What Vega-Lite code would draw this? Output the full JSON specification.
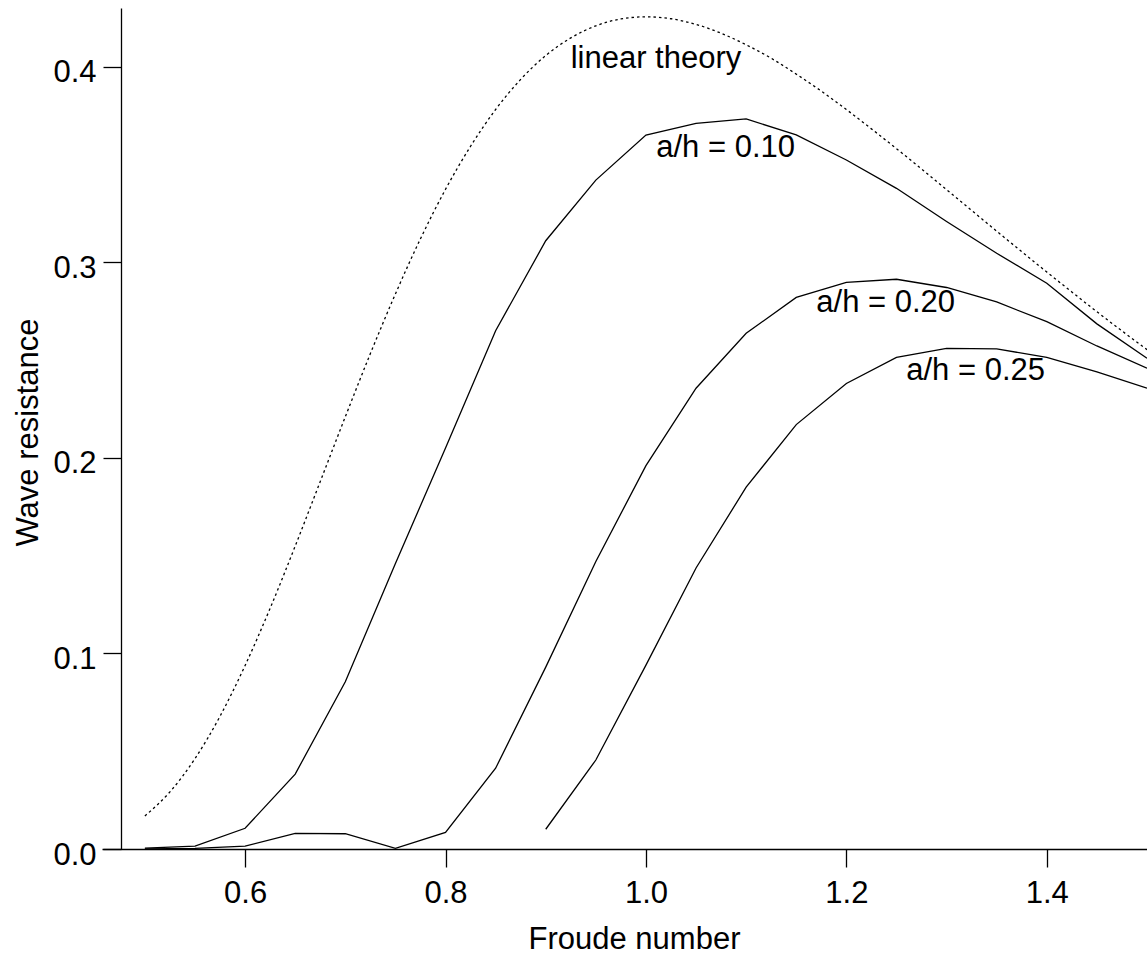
{
  "$schema": "https://vega.github.io/schema/vega-lite/v6.json",
  "width": 1045,
  "height": 841,
  "autosize": {"type": "none"},
  "padding": {"left": 102, "top": 8, "right": 0, "bottom": 108},
  "background": "white",
  "config": {
    "view": {"stroke": null},
    "font": "Liberation Sans",
    "axis": {
      "domainColor": "black", "domainWidth": 1.3,
      "tickColor": "black", "tickWidth": 1.3, "tickSize": 18,
      "labelColor": "black", "labelFont": "Liberation Sans", "labelFontSize": 31,
      "titleColor": "black", "titleFont": "Liberation Sans", "titleFontSize": 31, "titleFontWeight": "normal",
      "grid": false
    }
  },
  "datasets": {
    "curves": [
      {"F": 0.50, "R": 0.0004, "series": "a/h = 0.10"},
      {"F": 0.55, "R": 0.0015, "series": "a/h = 0.10"},
      {"F": 0.60, "R": 0.0106, "series": "a/h = 0.10"},
      {"F": 0.65, "R": 0.0383, "series": "a/h = 0.10"},
      {"F": 0.70, "R": 0.0855, "series": "a/h = 0.10"},
      {"F": 0.75, "R": 0.146, "series": "a/h = 0.10"},
      {"F": 0.80, "R": 0.205, "series": "a/h = 0.10"},
      {"F": 0.85, "R": 0.265, "series": "a/h = 0.10"},
      {"F": 0.90, "R": 0.311, "series": "a/h = 0.10"},
      {"F": 0.95, "R": 0.342, "series": "a/h = 0.10"},
      {"F": 1.00, "R": 0.365, "series": "a/h = 0.10"},
      {"F": 1.05, "R": 0.371, "series": "a/h = 0.10"},
      {"F": 1.10, "R": 0.3733, "series": "a/h = 0.10"},
      {"F": 1.15, "R": 0.3651, "series": "a/h = 0.10"},
      {"F": 1.20, "R": 0.3523, "series": "a/h = 0.10"},
      {"F": 1.25, "R": 0.3378, "series": "a/h = 0.10"},
      {"F": 1.30, "R": 0.3208, "series": "a/h = 0.10"},
      {"F": 1.35, "R": 0.3046, "series": "a/h = 0.10"},
      {"F": 1.40, "R": 0.2893, "series": "a/h = 0.10"},
      {"F": 1.45, "R": 0.2685, "series": "a/h = 0.10"},
      {"F": 1.50, "R": 0.2509, "series": "a/h = 0.10"},
      {"F": 0.50, "R": 0.0, "series": "a/h = 0.20"},
      {"F": 0.55, "R": 0.0003, "series": "a/h = 0.20"},
      {"F": 0.60, "R": 0.0015, "series": "a/h = 0.20"},
      {"F": 0.65, "R": 0.008, "series": "a/h = 0.20"},
      {"F": 0.70, "R": 0.0078, "series": "a/h = 0.20"},
      {"F": 0.75, "R": 0.0003, "series": "a/h = 0.20"},
      {"F": 0.80, "R": 0.0085, "series": "a/h = 0.20"},
      {"F": 0.85, "R": 0.0413, "series": "a/h = 0.20"},
      {"F": 0.90, "R": 0.093, "series": "a/h = 0.20"},
      {"F": 0.95, "R": 0.147, "series": "a/h = 0.20"},
      {"F": 1.00, "R": 0.196, "series": "a/h = 0.20"},
      {"F": 1.05, "R": 0.2356, "series": "a/h = 0.20"},
      {"F": 1.10, "R": 0.2637, "series": "a/h = 0.20"},
      {"F": 1.15, "R": 0.282, "series": "a/h = 0.20"},
      {"F": 1.20, "R": 0.2897, "series": "a/h = 0.20"},
      {"F": 1.25, "R": 0.2913, "series": "a/h = 0.20"},
      {"F": 1.30, "R": 0.2871, "series": "a/h = 0.20"},
      {"F": 1.35, "R": 0.2797, "series": "a/h = 0.20"},
      {"F": 1.40, "R": 0.2696, "series": "a/h = 0.20"},
      {"F": 1.45, "R": 0.2572, "series": "a/h = 0.20"},
      {"F": 1.50, "R": 0.2458, "series": "a/h = 0.20"},
      {"F": 0.90, "R": 0.0101, "series": "a/h = 0.25"},
      {"F": 0.95, "R": 0.0455, "series": "a/h = 0.25"},
      {"F": 1.00, "R": 0.094, "series": "a/h = 0.25"},
      {"F": 1.05, "R": 0.1437, "series": "a/h = 0.25"},
      {"F": 1.10, "R": 0.185, "series": "a/h = 0.25"},
      {"F": 1.15, "R": 0.217, "series": "a/h = 0.25"},
      {"F": 1.20, "R": 0.238, "series": "a/h = 0.25"},
      {"F": 1.25, "R": 0.2514, "series": "a/h = 0.25"},
      {"F": 1.30, "R": 0.256, "series": "a/h = 0.25"},
      {"F": 1.35, "R": 0.2557, "series": "a/h = 0.25"},
      {"F": 1.40, "R": 0.2514, "series": "a/h = 0.25"},
      {"F": 1.45, "R": 0.244, "series": "a/h = 0.25"},
      {"F": 1.50, "R": 0.2356, "series": "a/h = 0.25"}
    ],
    "linear": [
      {"F": 0.500, "R": 0.0169}, {"F": 0.525, "R": 0.0292}, {"F": 0.550, "R": 0.0462},
      {"F": 0.575, "R": 0.0679}, {"F": 0.600, "R": 0.0938}, {"F": 0.625, "R": 0.1231},
      {"F": 0.650, "R": 0.1549}, {"F": 0.675, "R": 0.1879}, {"F": 0.700, "R": 0.2210},
      {"F": 0.725, "R": 0.2533}, {"F": 0.750, "R": 0.2838}, {"F": 0.775, "R": 0.3120},
      {"F": 0.800, "R": 0.3373}, {"F": 0.825, "R": 0.3593}, {"F": 0.850, "R": 0.3781},
      {"F": 0.875, "R": 0.3935}, {"F": 0.900, "R": 0.4057}, {"F": 0.925, "R": 0.4147},
      {"F": 0.950, "R": 0.4209}, {"F": 0.975, "R": 0.4244}, {"F": 1.000, "R": 0.4255},
      {"F": 1.025, "R": 0.4245}, {"F": 1.050, "R": 0.4216}, {"F": 1.075, "R": 0.4171},
      {"F": 1.100, "R": 0.4112}, {"F": 1.125, "R": 0.4043}, {"F": 1.150, "R": 0.3962},
      {"F": 1.175, "R": 0.3875}, {"F": 1.200, "R": 0.3781}, {"F": 1.225, "R": 0.3682},
      {"F": 1.250, "R": 0.3581}, {"F": 1.275, "R": 0.3477}, {"F": 1.300, "R": 0.3371},
      {"F": 1.325, "R": 0.3265}, {"F": 1.350, "R": 0.3159}, {"F": 1.375, "R": 0.3054},
      {"F": 1.400, "R": 0.2950}, {"F": 1.425, "R": 0.2848}, {"F": 1.450, "R": 0.2747},
      {"F": 1.475, "R": 0.2649}, {"F": 1.500, "R": 0.2553}
    ],
    "labels": [
      {"F": 1.010, "R": 0.3992, "text": "linear theory"},
      {"F": 1.0795, "R": 0.354, "text": "a/h = 0.10"},
      {"F": 1.2392, "R": 0.2747, "text": "a/h = 0.20"},
      {"F": 1.329, "R": 0.2398, "text": "a/h = 0.25"}
    ]
  },
  "layer": [
    {
      "data": {"name": "linear"},
      "mark": {"type": "line", "color": "black", "strokeWidth": 1.3, "strokeDash": [2.5, 3], "interpolate": "monotone"},
      "encoding": {
        "x": {
          "field": "F", "type": "quantitative",
          "scale": {"domain": [0.4572, 1.5], "nice": false, "zero": false},
          "axis": {
            "title": "Froude number",
            "values": [0.6, 0.8, 1.0, 1.2, 1.4], "format": ".1f",
            "labelBaseline": "alphabetic", "labelPadding": 35,
            "titleX": 532, "titleY": 99, "titleBaseline": "alphabetic", "titleAnchor": null, "titleAlign": "center"
          }
        },
        "y": {
          "field": "R", "type": "quantitative",
          "scale": {"domain": [0, 0.43], "nice": false, "zero": false},
          "axis": {
            "title": "Wave resistance",
            "offset": -19,
            "values": [0, 0.1, 0.2, 0.3, 0.4], "format": ".1f",
            "labelBaseline": "alphabetic", "labelOffset": 15, "labelPadding": 7,
            "titleX": -84, "titleY": 424, "titleBaseline": "alphabetic", "titleAlign": "center", "titleAngle": -90
          }
        }
      }
    },
    {
      "data": {"name": "curves"},
      "mark": {"type": "line", "color": "black", "strokeWidth": 1.3},
      "encoding": {
        "x": {"field": "F", "type": "quantitative"},
        "y": {"field": "R", "type": "quantitative"},
        "detail": {"field": "series"}
      }
    },
    {
      "data": {"name": "labels"},
      "mark": {"type": "text", "font": "Liberation Sans", "fontSize": 31, "align": "center", "baseline": "alphabetic", "color": "black"},
      "encoding": {
        "x": {"field": "F", "type": "quantitative"},
        "y": {"field": "R", "type": "quantitative"},
        "text": {"field": "text"}
      }
    }
  ]
}
